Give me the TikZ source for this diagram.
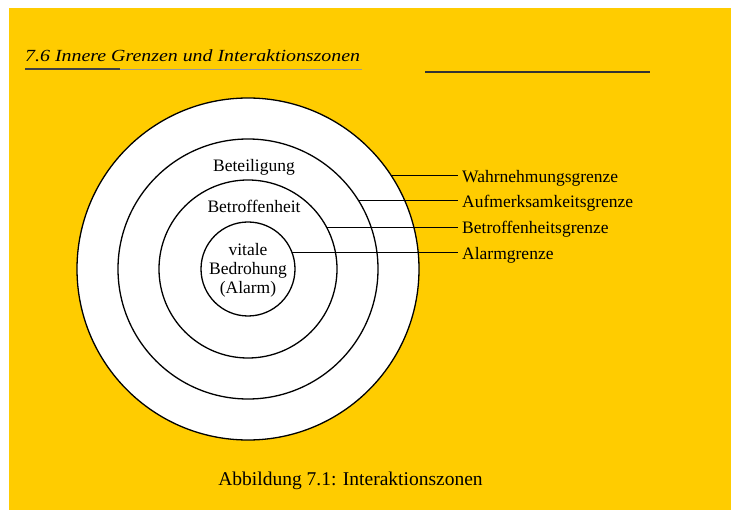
\documentclass[tikz,border=0pt]{standalone}
\usepackage{fontspec}
\setmainfont{Liberation Serif}
\definecolor{bgyellow}{RGB}{255,204,0}
\begin{document}
\begin{tikzpicture}[x=1pt,y=-1pt,
  ring/.style={circle,draw=black,line width=1.3pt,fill=white,inner sep=0pt,outer sep=0pt},
  zone/.style={font=\fontsize{17.5}{19}\selectfont,align=center,inner sep=0pt},
  lbl/.style={font=\fontsize{17.5}{20}\selectfont,anchor=base west,inner xsep=4pt,inner ysep=0pt},
  conn/.style={line width=1.2pt,line cap=butt}]
\useasboundingbox (0,0) rectangle (731,510);
\fill[white] (0,0) rectangle (731,510);
\fill[bgyellow] (9,8) rectangle (731,510);
% title and rules
\node[anchor=base west,inner sep=0pt,font=\fontsize{17}{20}\selectfont\itshape] (t) at (25,62)
  {\scalebox{1.17}[1]{7.6 Innere Grenzen und Interaktionszonen}};
\draw[line width=1.3pt,black!75] (25,69) -- (120,69);
\draw[line width=0.8pt,black!40] (120,69) -- (362,69);
\draw[line width=1.3pt,black!80] (425,72) -- (650,72);
% rings
\node[ring,minimum size=342pt] (c1) at (248,269) {};
\node[ring,minimum size=260pt] (c2) at (248,269) {};
\node[ring,minimum size=178pt] (c3) at (248,269) {};
\node[ring,minimum size=94pt] (c4) at (248,269) {};
% zone texts
\node[zone,anchor=base] (bet) at (254,172) {Beteiligung};
\node[zone,anchor=base] (btr) at (254,213) {Betroffenheit};
\node[zone] (vit) at (248,270) {vitale\\Bedrohung\\(Alarm)};
% boundary labels
\node[lbl] (w) at (458,183) {Wahrnehmungsgrenze};
\node[lbl] (a) at (458,208) {Aufmerksamkeitsgrenze};
\node[lbl] (b) at (458,234) {Betroffenheitsgrenze};
\node[lbl] (al) at (458,260) {Alarmgrenze};
% connectors
\draw[conn] (c1.33.35) -- (c1.33.35 -| w.west);
\draw[conn] (c2.32.06) -- (c2.32.06 -| a.west);
\draw[conn] (c3.28.89) -- (c3.28.89 -| b.west);
\draw[conn] (c4.21.2) -- (c4.21.2 -| al.west);
% caption
\node[anchor=base,inner sep=0pt,font=\fontsize{19.5}{22}\selectfont] (cap) at (350.5,485)
  {Abbildung 7.1: Interaktionszonen};
\end{tikzpicture}
\end{document}
